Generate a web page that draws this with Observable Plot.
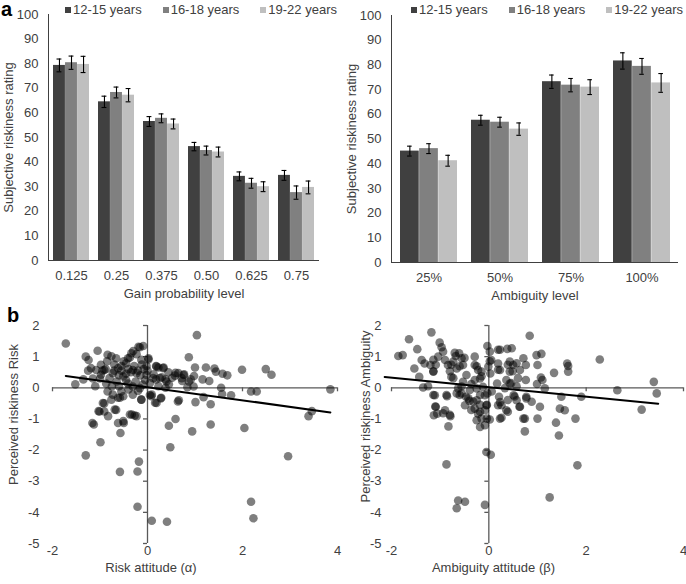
<!DOCTYPE html>
<html>
<head>
<meta charset="utf-8">
<script src="https://cdn.jsdelivr.net/npm/d3@7"></script>
<script src="https://cdn.jsdelivr.net/npm/@observablehq/plot@0.6"></script>
<style>
  body { margin: 0; background: #fff; font-family: "Liberation Sans", Arial, sans-serif; color: #404040; }
  #fig { position: relative; width: 686px; height: 584px; overflow: hidden; }
  .panel { position: absolute; }
  .letter { position: absolute; font-weight: bold; font-size: 20px; line-height: 20px; color: #000; }
  .legend { position: absolute; display: flex; font-size: 13px; line-height: 14px; white-space: nowrap; }
  .legend .item { display: flex; align-items: center; margin-right: 21px; }
  .legend i { display: inline-block; width: 6px; height: 6px; margin-right: 2px; }
</style>
</head>
<body>
<div id="fig"></div>
<script>
// age groups and bar colours
const ageGroups = ['12-15 years', '16-18 years', '19-22 years']
const groupColors = ['#404040', '#808080', '#bfbfbf']

// panel a, left: gain probability
const gainLevels = ['0.125', '0.25', '0.375', '0.50', '0.625', '0.75']
const gainMeans = [
  [79.3, 64.5, 56.5, 46.3, 34.2, 34.6],
  [80.4, 68.3, 57.8, 44.7, 31.4, 27.6],
  [79.7, 67.2, 55.5, 44.1, 30.0, 29.7]
]
const gainErr = [
  [2.6, 2.3, 2.0, 1.7, 1.8, 2.0],
  [2.7, 2.2, 1.8, 1.8, 2.0, 2.7],
  [3.3, 2.7, 2.0, 2.0, 2.0, 2.6]
]

// panel a, right: ambiguity level
const ambLevels = ['25%', '50%', '75%', '100%']
const ambMeans = [
  [45.1, 57.6, 73.2, 81.6],
  [46.1, 56.8, 71.8, 79.4],
  [41.2, 54.0, 71.0, 72.7]
]
const ambErr = [
  [2.0, 2.0, 2.7, 3.3],
  [2.0, 2.0, 2.7, 3.2],
  [2.2, 2.5, 3.0, 3.8]
]
const barTicks = [0, 10, 20, 30, 40, 50, 60, 70, 80, 90, 100]

// panel b, left: risk attitude vs perceived riskiness (risk)
const riskPts = [
  [-1.72,1.42],[-1.52,0.11],[-1.30,1.0],[-1.24,0.89],[-1.05,1.19],[-1.35,0.27],[-1.13,-1.18],[-0.99,-1.75],
  [-1.30,-2.17],[-1.03,-0.75],[-0.91,-0.5],[-0.83,-0.91],[-0.69,-0.70],[-0.58,-0.32],[-0.62,-1.13],[-0.50,-1.13],
  [-0.57,-1.45],[-0.58,-2.70],[-0.21,-2.69],[-0.18,-2.37],[-0.21,-3.82],[0.09,-4.27],[0.41,-4.30],[-0.33,-0.86],
  [-0.23,-0.91],[-0.13,-0.38],[0.08,-0.27],[0.16,-0.48],[0.29,-0.32],[0.45,-1.22],[0.48,-1.91],[0.59,-1.0],
  [0.66,-0.40],[1.04,1.69],[0.87,0.98],[1.0,0.65],[1.16,0.27],[1.23,0.65],[1.30,0.22],[1.41,0.62],
  [1.44,0.52],[1.55,0.0],[1.58,0.45],[1.68,0.40],[1.76,-0.24],[1.57,-0.20],[1.33,-0.53],[1.33,-1.18],
  [0.94,-1.40],[1.01,-0.46],[1.18,-0.30],[1.99,0.58],[2.04,-1.29],[2.18,-0.12],[2.30,-0.12],[2.49,0.60],
  [2.61,0.42],[2.96,-2.20],[2.18,-3.66],[2.23,-4.19],[3.39,-0.91],[3.46,-0.75],[3.85,-0.05],
  [0.73,0.22],[0.77,0.43],[0.84,0.02],[0.91,0.27],[0.98,0.38],[0.59,0.48],[0.52,0.32],[0.38,0.27],
  [0.34,0.65],[0.23,0.65],[0.18,0.70],[0.18,0.27],[0.23,0.05],[0.38,0.0],[0.45,0.11],[0.13,0.43],
  [0.02,0.91],[0.65,0.47],[0.76,0.41],[0.44,0.50],[0.30,0.34],[0.58,0.39],[0.64,-0.44],[0.28,-0.34],
  [0.05,-0.23],[0.97,0.04],[0.87,0.20],[0.72,0.31],[0.40,0.20],[0.26,0.31],[0.12,0.31],[-0.02,0.41],
  [0.33,0.63],[0.19,0.68],
  [-0.09,1.34],[-0.19,1.32],[-0.23,1.08],[-0.30,1.18],[-0.37,0.97],[-0.16,1.30],[-0.34,1.11],[-0.41,0.95],
  [-0.45,0.79],[-0.13,0.90],[0.02,0.95],[-0.84,1.06],[-0.76,1.01],[-0.66,0.95],[-0.62,0.63],[-0.73,0.47],
  [-0.80,0.31],[-0.87,0.14],[-1.19,0.63],[-1.08,0.57],[-0.98,0.74],[-0.91,0.57],[-0.98,0.42],[-0.51,0.36],
  [-0.41,0.14],[-0.31,0.04],[-0.31,0.57],[-0.23,0.47],[-0.55,-0.12],[-0.73,-0.22],[-0.84,-0.12],[-0.76,-0.38],
  [-0.62,-0.32],[-0.51,-0.27],[-0.31,-0.22],[-0.13,-0.38],[0.09,-0.22],[0.19,-0.49],[-0.16,-0.01],[-0.94,-0.49],
  [-0.91,-0.76],[-1.01,-0.76],[-0.66,-0.71],[-0.37,-0.86],[-0.27,-0.89],[-0.51,-1.07],[-1.16,-1.13],[-1.10,0.05],
  [-1.00,0.30],[-0.95,0.55],[-0.88,0.60],[-0.70,0.55],[-0.60,0.40],[-0.55,0.55],[-0.45,0.45],[-0.40,0.60],
  [-0.35,0.50],[-0.28,0.70],[-0.20,0.55],[-0.15,0.40],[-0.08,0.60],[-0.05,0.25],[-0.10,0.10],[-0.25,0.20],
  [-0.45,0.25],[-0.65,0.20],[-0.75,0.05],[-0.60,0.05],[-0.40,-0.05],[-0.20,-0.10],[0.05,0.15],[0.0,0.55],
  [-1.25,0.55],[-1.15,0.30],[-0.70,0.75],[-0.50,0.85],[-0.55,0.70],[-0.85,0.85],[-0.12,0.75],[-0.02,0.70]
]
const riskFitX = [-1.72, 3.85]
const riskFitY = [0.38, -0.79]

// panel b, right: ambiguity attitude vs perceived riskiness (ambiguity)
const ambPts = [
  [-1.86,1.02],[-1.77,1.05],[-1.64,1.56],[-1.47,1.24],[-1.53,0.62],[-1.43,0.35],[-1.35,0.01],[-1.25,0.05],
  [-1.18,1.78],[-1.38,0.89],[-1.32,0.78],[-1.20,0.73],[-1.14,0.52],[-1.11,-0.24],[-1.09,-0.61],[-1.13,-0.88],
  [-1.06,-0.83],[-1.01,1.45],[-0.97,1.30],[-0.94,1.16],[-1.04,1.0],[-0.90,0.89],[-0.84,0.73],[-0.90,-0.72],
  [-0.86,-0.27],[-0.79,-0.91],[-0.83,-1.24],[-0.87,-2.46],[-0.63,-3.62],[-0.66,-3.87],[-0.49,-3.66],[-0.73,0.84],
  [-0.68,1.02],[-0.61,1.11],[-0.56,0.95],[-0.66,0.62],[-0.77,0.35],[-0.53,0.73],[-0.46,0.41],[-0.53,0.19],
  [-0.63,-0.02],[-0.56,-0.18],[-0.47,-0.29],[-0.40,-0.42],[-0.49,-0.56],[-0.29,1.0],[-0.29,0.73],[-0.22,0.57],
  [-0.15,0.52],[-0.18,0.30],[-0.29,0.25],[-0.36,0.12],[-0.25,-0.02],[-0.25,-0.40],[-0.29,-0.67],[-0.22,-0.83],
  [-0.25,-1.04],[-0.18,-1.26],[-0.08,-1.20],[-0.15,-0.99],[-0.08,-0.72],[-0.05,-0.56],[-0.08,-0.24],[-0.03,-0.18],
  [-0.12,0.03],[-0.03,1.34],[0.02,1.16],[0.05,0.89],[-0.01,0.68],[0.03,0.46],[-0.05,-2.06],[0.04,-2.15],
  [-0.08,-3.76],[0.02,-1.02],[0.19,-0.56],[0.26,-0.56],[0.26,-0.96],[0.36,-0.72],[0.21,-0.29],[0.17,0.14],
  [0.23,0.57],[0.19,0.78],[0.23,1.22],[0.38,1.25],[0.47,1.27],[0.43,0.84],[0.50,0.73],[0.43,0.52],
  [0.36,0.25],[0.43,0.14],[0.57,0.05],[0.51,-0.24],[0.57,-0.40],[0.64,-0.61],[0.74,-0.99],[0.74,-1.40],
  [0.71,0.95],[0.76,0.73],[0.64,0.57],[0.76,0.25],[0.84,1.67],[0.77,-0.29],[0.88,-0.45],[0.98,1.05],
  [1.08,1.09],[1.0,0.73],[1.07,0.33],[0.99,0.12],[1.10,0.25],[1.15,-0.02],[1.0,-0.99],[1.05,-0.61],
  [1.34,0.48],[1.38,-1.12],[1.44,-1.53],[1.49,-0.29],[1.46,-0.67],[1.56,-0.72],[1.61,0.78],[1.63,0.52],
  [1.63,0.70],[1.78,-0.99],[1.82,-2.49],[1.90,-0.29],[2.28,0.91],[2.64,-0.08],[3.14,-0.70],[3.39,0.19],
  [3.45,-0.18],[1.25,-3.52],
  [-1.14,0.90],[-1.09,0.74],[-1.14,0.53],[-0.77,0.74],[-0.70,1.12],[-0.60,0.69],[-0.80,0.53],[-0.73,0.31],
  [-0.50,0.96],[-0.25,0.69],[-0.15,0.37],[0.19,1.22],[0.02,0.85],[0.19,0.58],[0.39,0.74],[0.49,0.53],
  [0.57,0.79],[0.60,0.31],[0.46,0.15],[0.33,-0.01],[0.06,-0.12],[-0.18,-0.23],[-0.39,-0.07],[-0.56,0.04],
  [-0.60,-0.23],[-0.42,-0.34],[-0.66,-0.18],[-1.14,-0.23],[-0.87,-0.23],[-0.32,-0.44],[-0.18,-0.55],[-0.04,-0.55],
  [0.23,-0.46],[0.39,-0.39],[0.53,-0.28],[0.63,-0.61],[0.77,-0.34],[-1.10,-0.60],[-0.94,-0.82],[-0.80,-0.87],
  [-0.36,-0.71],[-0.18,-0.77],[-0.04,-0.99],[0.23,-0.99],[0.39,-0.77],[0.71,-0.99]
]
const ambFitX = [-2.14, 3.48]
const ambFitY = [0.35, -0.51]

const scatterXTicks = [-2, 0, 2, 4]
const scatterYTicks = [2, 1, 0, -1, -2, -3, -4, -5]

const font = '"Liberation Sans", Arial, sans-serif'
const fig = document.getElementById('fig')

function place(node, left, top) {
  node.classList.add('panel')
  node.style.left = left + 'px'
  node.style.top = top + 'px'
  fig.appendChild(node)
}

function barPanel(levels, means, errs, o) {
  const step = (o.width - o.ml - o.mr) / levels.length
  const w = 0.8 * step / 3 // width of one bar inside a group
  const cap = 5
  const marks = []
  ageGroups.forEach((g, j) => {
    const rows = levels.map((lev, i) => ({level: lev, value: means[j][i], err: errs[j][i]}))
    const inL = j * w, inR = (2 - j) * w
    marks.push(
      Plot.barY(rows, {x: 'level', y: 'value', fill: groupColors[j], insetLeft: inL, insetRight: inR}),
      Plot.ruleX(rows, {x: 'level', y1: d => d.value - d.err, y2: d => d.value + d.err, dx: (j - 1) * w, stroke: '#000', strokeWidth: 1.1}),
      Plot.tickY(rows, {x: 'level', y: d => d.value + d.err, insetLeft: inL + (w - cap) / 2, insetRight: inR + (w - cap) / 2, stroke: '#000', strokeWidth: 1.1}),
      Plot.tickY(rows, {x: 'level', y: d => d.value - d.err, insetLeft: inL + (w - cap) / 2, insetRight: inR + (w - cap) / 2, stroke: '#000', strokeWidth: 1.1})
    )
  })
  return Plot.plot({
    width: o.width, height: o.height,
    marginLeft: o.ml, marginRight: o.mr, marginTop: o.mt, marginBottom: o.mb,
    style: {fontSize: '13px', fontFamily: font, color: '#404040', background: 'transparent', overflow: 'visible'},
    x: {domain: levels, paddingInner: 0.2, paddingOuter: 0.1},
    y: {domain: [0, 100]},
    marks: [
      ...marks,
      Plot.ruleY([0], {stroke: '#404040'}),
      Plot.frame({anchor: 'left', stroke: '#404040'}),
      Plot.axisY({ticks: barTicks, tickSize: 0, tickPadding: 10, label: null, tickFormat: d => String(d)}),
      Plot.axisX({tickSize: 0, tickPadding: 10, label: null}),
      Plot.text([o.yLabel], {frameAnchor: 'left', textAnchor: 'middle', lineAnchor: 'middle', rotate: -90, dx: -40, fontSize: 13, fill: '#404040'}),
      Plot.text([o.xLabel], {frameAnchor: 'bottom', textAnchor: 'middle', lineAnchor: 'middle', dy: 33, fontSize: 13, fill: '#404040'})
    ]
  })
}

function scatterPanel(pts, fitX, fitY, o) {
  const data = pts.map(([x, y]) => ({x, y}))
  const fit = fitX.map((x, i) => ({x, y: fitY[i]}))
  return Plot.plot({
    width: o.width, height: o.height,
    marginLeft: o.ml, marginRight: o.mr, marginTop: o.mt, marginBottom: o.mb,
    style: {fontSize: '13px', fontFamily: font, color: '#404040', background: 'transparent', overflow: 'visible'},
    x: {domain: [-2, 4]},
    y: {domain: [-5, 2]},
    marks: [
      Plot.ruleY([0], {stroke: '#595959', strokeWidth: 1.3}),
      Plot.ruleX([0], {stroke: '#595959', strokeWidth: 1.3}),
      Plot.ruleX(scatterXTicks, {x: d => d, y1: 0, y2: 0, insetBottom: -4, stroke: '#595959', strokeWidth: 1.3}),
      Plot.ruleY(scatterYTicks, {y: d => d, x1: 0, x2: 0, insetLeft: -4, stroke: '#595959', strokeWidth: 1.3}),
      Plot.dot(data, {x: 'x', y: 'y', r: 4.3, fill: '#000', fillOpacity: 0.5, stroke: null}),
      Plot.line(fit, {x: 'x', y: 'y', stroke: '#000', strokeWidth: 2}),
      Plot.axisY({ticks: scatterYTicks, tickSize: 0, tickPadding: o.yPad, label: null, tickFormat: d => String(d)}),
      Plot.axisX({ticks: scatterXTicks, tickSize: 0, tickPadding: 2, label: null, tickFormat: d => String(d)}),
      Plot.text([o.yLabel], {frameAnchor: 'left', textAnchor: 'middle', lineAnchor: 'middle', rotate: -90, dx: o.yDx, dy: o.yDy, fontSize: 13, fill: '#404040'}),
      Plot.text([o.xLabel], {frameAnchor: 'bottom', textAnchor: 'middle', lineAnchor: 'middle', dx: -44, dy: 24, fontSize: 13, fill: '#404040'})
    ]
  })
}

place(barPanel(gainLevels, gainMeans, gainErr, {
  width: 343, height: 300, ml: 48, mr: 24, mt: 14, mb: 40,
  yLabel: 'Subjective riskiness rating', xLabel: 'Gain probability level'
}), 0, 0)

place(barPanel(ambLevels, ambMeans, ambErr, {
  width: 343, height: 300, ml: 48, mr: 8, mt: 15, mb: 38,
  yLabel: 'Subjective riskiness rating', xLabel: 'Ambiguity level'
}), 343, 0)

place(scatterPanel(riskPts, riskFitX, riskFitY, {
  width: 343, height: 284, ml: 52, mr: 6, mt: 25, mb: 41, yPad: 13,
  yDx: -39, yDy: -20,
  yLabel: 'Perceived riskiness Risk', xLabel: 'Risk attitude (\u03b1)'
}), 0, 300)

place(scatterPanel(ambPts, ambFitX, ambFitY, {
  width: 343, height: 284, ml: 48, mr: 3, mt: 25, mb: 41, yPad: 10,
  yDx: -26, yDy: -18,
  yLabel: 'Perceived riskiness Ambiguity', xLabel: 'Ambiguity attitude (\u03b2)'
}), 343, 300)

// legends (HTML, above each bar chart)
function legend(left, top) {
  const div = document.createElement('div')
  div.className = 'legend'
  div.style.left = left + 'px'
  div.style.top = top + 'px'
  ageGroups.forEach((g, j) => {
    const item = document.createElement('span')
    item.className = 'item'
    item.innerHTML = `<i style="background:${groupColors[j]}"></i>${g}`
    div.appendChild(item)
  })
  fig.appendChild(div)
}
legend(65, 3)
legend(411, 3)

// panel letters
function letter(t, left, top) {
  const d = document.createElement('div')
  d.className = 'letter'
  d.textContent = t
  d.style.left = left + 'px'
  d.style.top = top + 'px'
  fig.appendChild(d)
}
letter('a', 1, -1)
letter('b', 7, 305)
</script>
</body>
</html>
